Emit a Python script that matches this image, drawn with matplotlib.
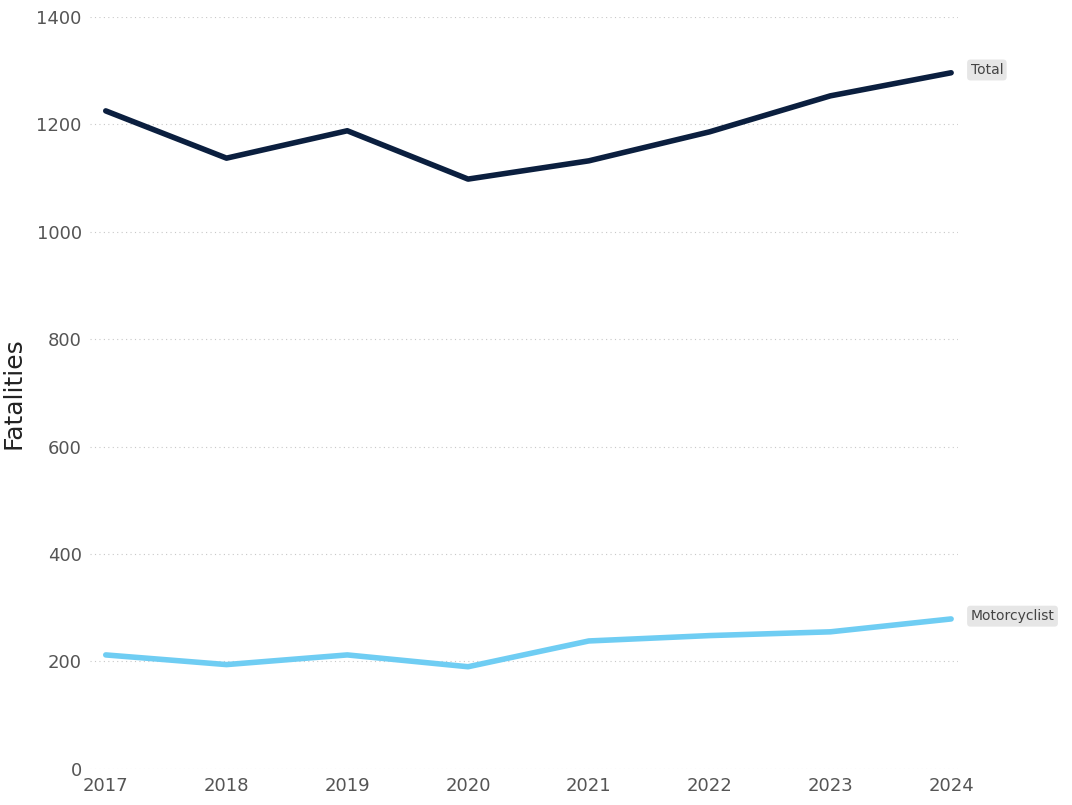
import matplotlib
matplotlib.use("Agg")
import matplotlib.pyplot as plt

years = [2017, 2018, 2019, 2020, 2021, 2022, 2023, 2024]
total = [1225, 1137, 1188, 1098, 1132, 1186, 1253, 1296]
moto = [212, 194, 212, 190, 238, 248, 255, 279]
yticks = [0, 200, 400, 600, 800, 1000, 1200, 1400]

fig = plt.figure(figsize=(10.72, 8.05), dpi=100)
ax = fig.add_axes([0.084, 0.045, 0.81, 0.934])
ax.plot(years, total, color="#0b1f3f", lw=4, solid_capstyle="round")
ax.plot(years, moto, color="#6fcdf3", lw=4, solid_capstyle="round")
ax.set_xlim(2016.87, 2024.06)
ax.set_ylim(0, 1400)
ax.set_yticks(yticks)
ax.set_xticks(years)
ax.grid(axis="y", color="#c8c8c8", linestyle=(0, (1, 3)), lw=0.8)
for s in ax.spines.values():
    s.set_visible(False)
ax.tick_params(length=0, labelsize=13, colors="#555555", pad=6)
ax.set_ylabel("Fatalities", fontsize=18, color="#222222", labelpad=8)
box = dict(boxstyle="round,pad=0.25", fc="#e6e6e6", ec="none")
ax.annotate("Total", (years[-1], total[-1]), xytext=(14, 2), textcoords="offset points",
            fontsize=10, color="#444444", bbox=box, va="center", annotation_clip=False)
ax.annotate("Motorcyclist", (years[-1], moto[-1]), xytext=(14, 2), textcoords="offset points",
            fontsize=10, color="#444444", bbox=box, va="center", annotation_clip=False)
fig.savefig("out.png")
